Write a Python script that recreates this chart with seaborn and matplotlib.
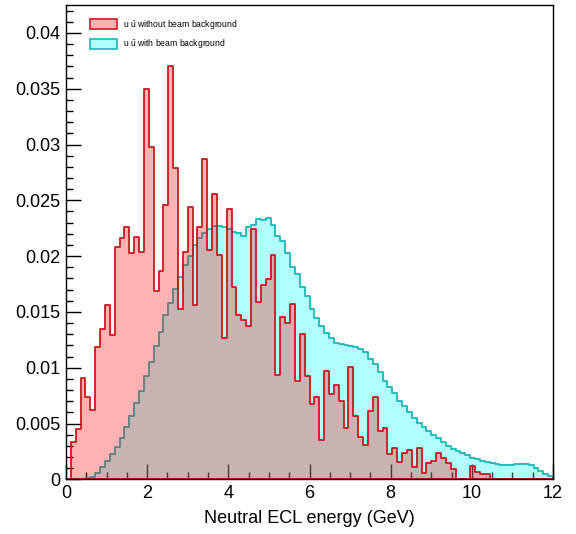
import numpy as np
import pandas as pd
import matplotlib
matplotlib.use("Agg")
import matplotlib.pyplot as plt
from matplotlib.patches import Patch
from matplotlib.ticker import MultipleLocator, FixedLocator
import seaborn as sns

# ---- data (100 bins of 0.12 GeV from 0 to 12 GeV) ----
bin_edges = [round(0.12 * i, 2) for i in range(101)]

red_values = [
    0.0, 0.00338, 0.00448, 0.00905, 0.00741, 0.00621, 0.01183, 0.01344, 0.01562, 0.0129,
    0.0208, 0.0216, 0.02258, 0.02025, 0.02174, 0.02037, 0.03495, 0.02981, 0.01685, 0.01864,
    0.02461, 0.03704, 0.0279, 0.01523, 0.0204, 0.0244, 0.01562, 0.02258, 0.02867, 0.02055,
    0.02557, 0.0201, 0.01263, 0.02419, 0.01726, 0.01473, 0.01428, 0.01374, 0.0224, 0.01586,
    0.01738, 0.01792, 0.0201, 0.00935, 0.01452, 0.01398, 0.01574, 0.00884, 0.01305, 0.00926,
    0.00675, 0.00735, 0.00352, 0.00974, 0.00762, 0.00842, 0.00705, 0.00457, 0.01004, 0.00567,
    0.00376, 0.00308, 0.00609, 0.00741, 0.00436, 0.0046, 0.00227, 0.00284, 0.00158, 0.00233,
    0.00263, 0.00108, 0.00278, 0.00054, 0.00143, 0.00164, 0.00233, 0.00188, 0.00143, 0.0009,
    0.0, 0.0, 0.0, 0.0012, 0.00069, 0.00045, 0.00048, 0.0, 0.0, 0.0,
    0.0, 0.0, 0.0, 0.0, 0.0, 0.0, 0.0, 0.0, 0.0, 0.0,
]

cyan_values = [
    0.0, 0.0, 0.0, 0.0, 0.0001, 0.00024, 0.0006, 0.00108, 0.00161, 0.00224,
    0.00293, 0.00373, 0.00472, 0.0057, 0.00681, 0.00794, 0.00926, 0.01051, 0.01195, 0.01323,
    0.0147, 0.01577, 0.01708, 0.01816, 0.0192, 0.02005, 0.021, 0.02162, 0.02204, 0.0224,
    0.0227, 0.0227, 0.02258, 0.0224, 0.02213, 0.02204, 0.02183, 0.02264, 0.02276, 0.02336,
    0.02324, 0.02342, 0.02279, 0.02183, 0.02133, 0.02025, 0.019, 0.01837, 0.01726, 0.0164,
    0.01523, 0.01449, 0.01374, 0.01308, 0.01263, 0.01219, 0.01213, 0.01201, 0.01195, 0.01183,
    0.01168, 0.01144, 0.01081, 0.0103, 0.00962, 0.00884, 0.00824, 0.00771, 0.00702, 0.00657,
    0.00606, 0.00553, 0.00508, 0.00466, 0.00436, 0.00394, 0.00367, 0.00338, 0.00299, 0.00275,
    0.00251, 0.00233, 0.00215, 0.00194, 0.00179, 0.00164, 0.00155, 0.00143, 0.00137, 0.00131,
    0.00128, 0.00131, 0.00134, 0.0014, 0.00137, 0.00125, 0.00099, 0.00078, 0.00048, 0.0003,
]

labels = ["u $\\bar{\\mathregular{u}}$ without beam background",
          "u $\\bar{\\mathregular{u}}$ with beam background"]
x_label = "Neutral ECL energy (GeV)"
y_ticks = [0, 0.005, 0.01, 0.015, 0.02, 0.025, 0.03, 0.035, 0.04]
y_ticklabels = ["0", "0.005", "0.01", "0.015", "0.02", "0.025", "0.03", "0.035", "0.04"]
x_ticks = [0, 2, 4, 6, 8, 10, 12]

edges_arr = np.array(bin_edges)
centers = 0.5 * (edges_arr[:-1] + edges_arr[1:])
df_red = pd.DataFrame({"E": centers, "w": red_values})
df_cyan = pd.DataFrame({"E": centers, "w": cyan_values})

sns.set_theme(style="ticks")
plt.rcParams["font.family"] = ["Liberation Sans", "DejaVu Sans"]
plt.rcParams["mathtext.fontset"] = "custom"
plt.rcParams["mathtext.rm"] = "Liberation Sans"
plt.rcParams["text.color"] = "black"
plt.rcParams["axes.labelcolor"] = "black"

fig = plt.figure(figsize=(5.76, 5.34), dpi=100)
ax = fig.add_axes([66 / 576, 1 - 479.3 / 534, (553 - 66) / 576, (479.3 - 5) / 534])

red_face = (1.0, 0.0, 0.0, 0.30)
red_edge = "#c81a1e"
cyan_face = (0.0, 1.0, 1.0, 0.30)
cyan_edge = "#18b8b8"

sns.histplot(data=df_cyan, x="E", weights="w", bins=bin_edges, element="step",
             fill=True, facecolor=cyan_face, edgecolor=cyan_edge, linewidth=1.3, ax=ax)
sns.histplot(data=df_red, x="E", weights="w", bins=bin_edges, element="step",
             fill=True, facecolor=red_face, edgecolor=red_edge, linewidth=1.3, ax=ax)

ax.set_xlim(0, 12)
ax.set_ylim(0, 0.0425)
ax.set_ylabel("")
ax.set_xlabel(x_label, fontsize=13, labelpad=6, color="black")

ax.yaxis.set_major_locator(FixedLocator(y_ticks))
ax.set_yticklabels(y_ticklabels)
ax.yaxis.set_minor_locator(MultipleLocator(0.001))
ax.xaxis.set_major_locator(FixedLocator(x_ticks))
ax.xaxis.set_minor_locator(MultipleLocator(0.5))
ax.tick_params(which="both", direction="in", top=False, right=False, width=1,
               color="black", labelcolor="black")
ax.tick_params(which="major", length=11, labelsize=13, pad=4)
ax.tick_params(which="minor", length=5)
for s in ax.spines.values():
    s.set_visible(True)
    s.set_linewidth(1.0)
    s.set_color("black")

handles = [Patch(facecolor=red_face, edgecolor=red_edge, linewidth=1.2),
           Patch(facecolor=cyan_face, edgecolor=cyan_edge, linewidth=1.2)]
leg = ax.legend(handles, labels, loc="upper left", bbox_to_anchor=(90 / 576, 1 - 18 / 534),
                bbox_transform=fig.transFigure, frameon=False, fontsize=6.2,
                handlelength=3.1, handleheight=1.4, handletextpad=0.7, labelspacing=0.75,
                borderpad=0, borderaxespad=0)
for t in leg.get_texts():
    t.set_color("black")

fig.savefig("out.png", dpi=100)
